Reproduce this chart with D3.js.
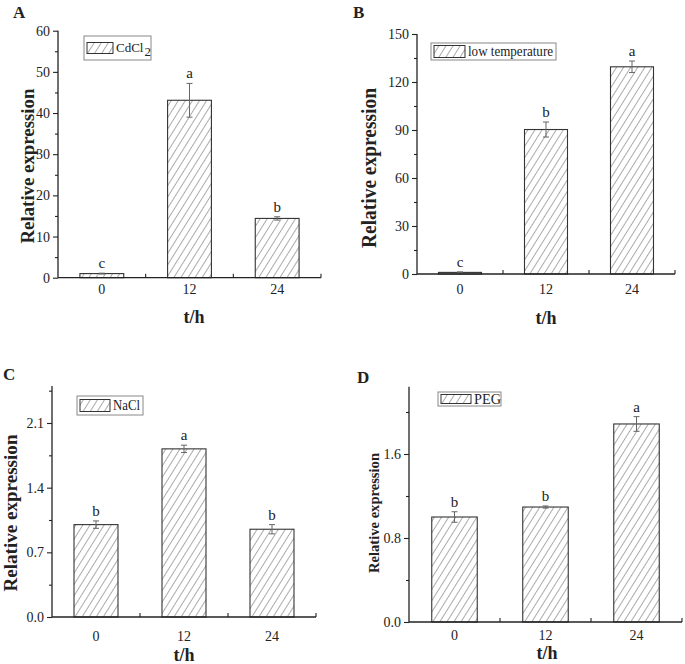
<!DOCTYPE html>
<html>
<head>
<meta charset="utf-8">
<script src="https://cdn.jsdelivr.net/npm/d3@7"></script>
<style>
  html, body { margin: 0; padding: 0; background: #fff; }
  svg { display: block; }
  text { font-family: "Liberation Serif", "Times New Roman", serif; fill: #222; }
</style>
</head>
<body>
<svg id="chart" width="685" height="664"></svg>
<script>
// ---------------- data ----------------
const categories = ["0", "12", "24"];

const cdcl2Values  = [1.0, 43.1, 14.4];
const cdcl2Errors  = [0.1, 4.1, 0.4];
const cdcl2Letters = ["c", "a", "b"];
const cdcl2Ticks   = [0, 10, 20, 30, 40, 50, 60];
const cdcl2Minor   = [5, 15, 25, 35, 45, 55];

const lowTempValues  = [1.0, 90.3, 129.5];
const lowTempErrors  = [0.3, 4.7, 3.6];
const lowTempLetters = ["c", "b", "a"];
const lowTempTicks   = [0, 30, 60, 90, 120, 150];
const lowTempMinor   = [15, 45, 75, 105, 135];

const naclValues  = [1.0, 1.82, 0.95];
const naclErrors  = [0.04, 0.04, 0.05];
const naclLetters = ["b", "a", "b"];
const naclTicks   = [0.0, 0.7, 1.4, 2.1];
const naclMinor   = [0.35, 1.05, 1.75, 2.45];

const pegValues  = [1.0, 1.095, 1.886];
const pegErrors  = [0.05, 0.01, 0.07];
const pegLetters = ["b", "b", "a"];
const pegTicks   = [0.0, 0.8, 1.6];
const pegMinor   = [0.4, 1.2, 2.0];

// ---------------- layout ----------------
const panels = [
  { id: "A", name: "CdCl", sub: "2", values: cdcl2Values, errors: cdcl2Errors, letters: cdcl2Letters,
    ticks: cdcl2Ticks, minor: cdcl2Minor, fmt: d3.format("d"), ymax: 60,
    x0: 58, x1: 321, yb: 277.7, yt: 30.7,
    label: [13, 18], ylab: { x: 34, y: 166, size: 19.5, len: 155 }, xlab: { x: 194, y: 323 }, tickY: 294,
    legend: { x: 84, y: 36, w: 67, h: 24, sw: 26, sh: 11, size: 13, len: null } },
  { id: "B", name: "low temperature", values: lowTempValues, errors: lowTempErrors, letters: lowTempLetters,
    ticks: lowTempTicks, minor: lowTempMinor, fmt: d3.format("d"), ymax: 150,
    x0: 417, x1: 675, yb: 274, yt: 34,
    label: [353, 18], ylab: { x: 376, y: 168, size: 20, len: 160 }, xlab: { x: 546, y: 324 }, tickY: 294,
    legend: { x: 431, y: 43, w: 125, h: 17, sw: 31, sh: 12, size: 15, len: 85 } },
  { id: "C", name: "NaCl", values: naclValues, errors: naclErrors, letters: naclLetters,
    ticks: naclTicks, minor: naclMinor, fmt: d3.format(".1f"), ymax: 2.5,
    x0: 52, x1: 316, yb: 617, yt: 617 - 194 / 2.1 * 2.5,
    label: [3, 380], ylab: { x: 17, y: 513, size: 18, len: 157 }, xlab: { x: 184, y: 661 }, tickY: 641,
    legend: { x: 77, y: 396, w: 66, h: 19, sw: 30, sh: 12, size: 15, len: 27 } },
  { id: "D", name: "PEG", values: pegValues, errors: pegErrors, letters: pegLetters,
    ticks: pegTicks, minor: pegMinor, fmt: d3.format(".1f"), ymax: 2.24,
    x0: 409, x1: 682, yb: 622, yt: 622 - 168 / 1.6 * 2.24,
    label: [357, 383], ylab: { x: 379, y: 513, size: 15.5, len: 120 }, xlab: { x: 547, y: 659 }, tickY: 640,
    legend: { x: 438, y: 392, w: 63, h: 14, sw: 30, sh: 9, size: 14, len: 27 } }
];

const svg = d3.select("#chart");
const defs = svg.append("defs");
defs.append("pattern")
  .attr("id", "hatch")
  .attr("patternUnits", "userSpaceOnUse")
  .attr("width", 6).attr("height", 6)
  .attr("patternTransform", "rotate(32)")
  .append("line")
  .attr("x1", 0).attr("y1", 0).attr("x2", 0).attr("y2", 6)
  .attr("stroke", "#444").attr("stroke-width", 0.9);

const axisColor = "#222";
const serif = "'Liberation Serif', 'Times New Roman', serif";

panels.forEach(p => {
  const g = svg.append("g");
  const x = d3.scaleBand().domain(categories).range([p.x0, p.x1])
    .paddingInner(0.5).paddingOuter(0.25);
  const y = d3.scaleLinear().domain([0, p.ymax]).range([p.yb, p.yt]);

  // bars
  g.selectAll("rect.bar").data(p.values).enter().append("rect")
    .attr("class", "bar")
    .attr("x", (d, i) => x(categories[i]))
    .attr("y", d => y(d))
    .attr("width", x.bandwidth())
    .attr("height", d => y(0) - y(d))
    .attr("fill", "url(#hatch)")
    .attr("stroke", "#333").attr("stroke-width", 1.1);

  // error bars
  const eb = g.selectAll("g.err").data(p.values).enter().append("g").attr("class", "err");
  eb.append("line")
    .attr("x1", (d, i) => x(categories[i]) + x.bandwidth() / 2)
    .attr("x2", (d, i) => x(categories[i]) + x.bandwidth() / 2)
    .attr("y1", (d, i) => y(d - p.errors[i]))
    .attr("y2", (d, i) => y(d + p.errors[i]))
    .attr("stroke", "#666").attr("stroke-width", 1);
  [-1, 1].forEach(s => {
    eb.append("line")
      .attr("x1", (d, i) => x(categories[i]) + x.bandwidth() / 2 - 3)
      .attr("x2", (d, i) => x(categories[i]) + x.bandwidth() / 2 + 3)
      .attr("y1", (d, i) => y(d + s * p.errors[i]))
      .attr("y2", (d, i) => y(d + s * p.errors[i]))
      .attr("stroke", "#666").attr("stroke-width", 1);
  });

  // significance letters
  g.selectAll("text.sig").data(p.values).enter().append("text")
    .attr("class", "sig")
    .attr("x", (d, i) => x(categories[i]) + x.bandwidth() / 2)
    .attr("y", (d, i) => y(d + p.errors[i]) - 5)
    .attr("text-anchor", "middle")
    .attr("font-size", 15)
    .text((d, i) => p.letters[i]);

  // y axis (major)
  const yAxis = g.append("g").attr("transform", `translate(${p.x0},0)`)
    .call(d3.axisLeft(y).tickValues(p.ticks).tickFormat(p.fmt).tickSize(5).tickPadding(3));
  yAxis.attr("font-family", serif).attr("font-size", 14);
  yAxis.select(".domain").attr("stroke", axisColor).attr("stroke-width", 1.3)
    .attr("d", `M0,${p.yt}V${p.yb}`);
  yAxis.selectAll(".tick line").attr("stroke", axisColor).attr("stroke-width", 1.1);
  yAxis.selectAll(".tick text").attr("fill", "#222");

  // y axis (minor)
  const yMinor = g.append("g").attr("transform", `translate(${p.x0},0)`)
    .call(d3.axisLeft(y).tickValues(p.minor).tickFormat("").tickSize(3));
  yMinor.select(".domain").remove();
  yMinor.selectAll(".tick line").attr("stroke", axisColor).attr("stroke-width", 1.1);

  // x axis
  g.append("line")
    .attr("x1", p.x0).attr("x2", p.x1).attr("y1", p.yb).attr("y2", p.yb)
    .attr("stroke", axisColor).attr("stroke-width", 1.3);
  const bounds = categories.map((c, i) => x(c) + x.bandwidth() / 2 + x.step() / 2);
  g.selectAll("line.xt").data(bounds).enter().append("line")
    .attr("class", "xt")
    .attr("x1", d => d).attr("x2", d => d)
    .attr("y1", p.yb).attr("y2", p.yb - 4)
    .attr("stroke", axisColor).attr("stroke-width", 1.1);
  g.selectAll("text.xl").data(categories).enter().append("text")
    .attr("class", "xl")
    .attr("x", d => x(d) + x.bandwidth() / 2)
    .attr("y", p.tickY)
    .attr("text-anchor", "middle")
    .attr("font-size", 14)
    .text(d => d);

  // axis titles
  g.append("text")
    .attr("transform", `translate(${p.ylab.x},${p.ylab.y}) rotate(-90)`)
    .attr("text-anchor", "middle")
    .attr("font-weight", "bold")
    .attr("font-size", p.ylab.size)
    .attr("textLength", p.ylab.len)
    .attr("lengthAdjust", "spacingAndGlyphs")
    .text("Relative expression");
  g.append("text")
    .attr("x", p.xlab.x).attr("y", p.xlab.y)
    .attr("text-anchor", "middle")
    .attr("font-weight", "bold")
    .attr("font-size", 18)
    .text("t/h");

  // panel label
  g.append("text")
    .attr("x", p.label[0]).attr("y", p.label[1])
    .attr("font-weight", "bold")
    .attr("font-size", 17)
    .text(p.id);

  // legend
  const L = p.legend;
  const lg = g.append("g");
  lg.append("rect")
    .attr("x", L.x).attr("y", L.y).attr("width", L.w).attr("height", L.h)
    .attr("fill", "#fff").attr("stroke", "#888").attr("stroke-width", 1);
  lg.append("rect")
    .attr("x", L.x + 3).attr("y", L.y + (L.h - L.sh) / 2).attr("width", L.sw).attr("height", L.sh)
    .attr("fill", "url(#hatch)").attr("stroke", "#333").attr("stroke-width", 1);
  const tx = L.x + 3 + L.sw + 3;
  const ty = L.y + L.h / 2 + L.size * 0.33;
  const lt = lg.append("text")
    .attr("x", tx).attr("y", ty)
    .attr("font-size", L.size)
    .text(p.name);
  if (L.len) {
    lt.attr("textLength", L.len).attr("lengthAdjust", "spacingAndGlyphs");
  }
  if (p.sub) {
    const w = lt.node().getComputedTextLength();
    lg.append("text")
      .attr("x", tx + w + 1).attr("y", ty + 4)
      .attr("font-size", L.size)
      .text(p.sub);
  }
});
</script>
</body>
</html>
